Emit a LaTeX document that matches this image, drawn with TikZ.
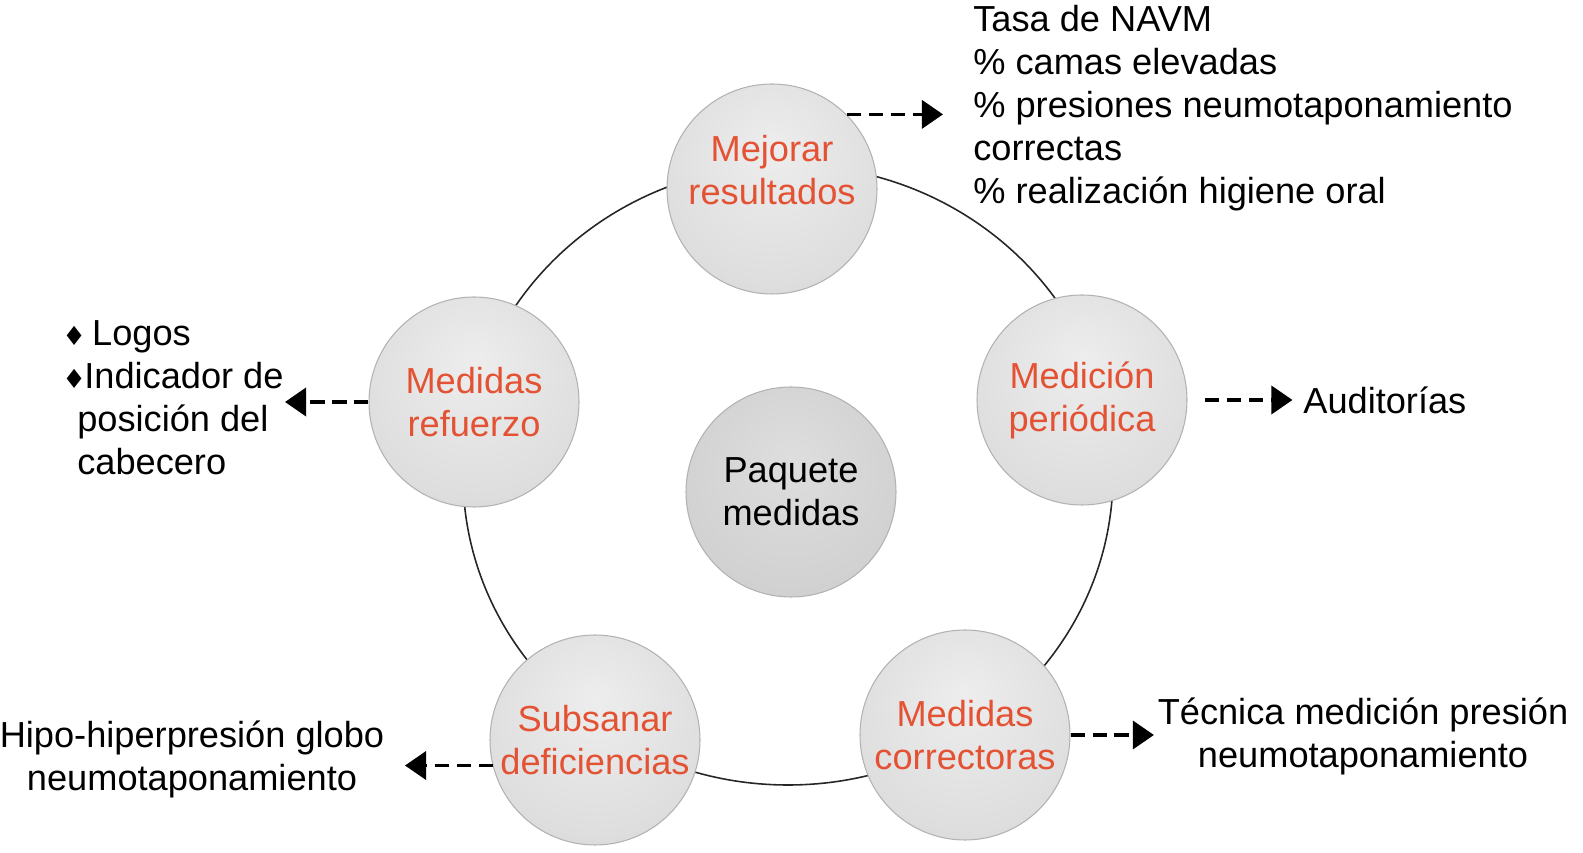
\documentclass[tikz,border=0pt]{standalone}
\usepackage{fontspec}
\setmainfont{Liberation Sans}
\newfontfamily\symfont{DejaVu Sans}
\usepackage{tikz}
\usetikzlibrary{arrows.meta}

\definecolor{redtext}{RGB}{228,82,52}
\newcommand{\bigtext}{\fontsize{20.6}{24.4}\selectfont}
\newcommand{\diam}{{\symfont\fontsize{15}{15}\selectfont ♦}}

\pgfdeclareradialshading{buttonshade}{\pgfpoint{0bp}{10bp}}{color(0bp)=(gray!14); color(28bp)=(gray!26); color(46bp)=(gray!42); color(55bp)=(gray!56); color(60bp)=(gray!72)}
\pgfdeclareradialshading{centershade}{\pgfpoint{0bp}{8bp}}{color(0bp)=(gray!26); color(28bp)=(gray!36); color(46bp)=(gray!52); color(54bp)=(gray!62); color(58bp)=(gray!70)}

\tikzset{
  ball/.style={circle, minimum size=4.2cm, inner sep=0pt, shade, shading=buttonshade,
               draw=gray!60, line width=0.6pt, text=redtext, align=center, font=\bigtext},
  centreball/.style={ball, shading=centershade, text=black},
  infotext/.style={inner sep=0pt, font=\bigtext},
  dasharrow/.style={black, line width=2pt, dash pattern=on 8pt off 4.5pt,
                    -{Triangle[length=12pt,width=16pt]}},
  ringline/.style={black!85, line width=0.9pt}
}

\begin{document}
\begin{tikzpicture}
\useasboundingbox (0,0) rectangle (31.66,17.06);

%%%----------Ring----------%%%
\draw [ringline] (15.76,7.56) ellipse [x radius=6.5, y radius=6.2];

%%%----------Balls----------%%%
\node [ball] (mej) at (15.44,13.28) {Mejorar\\resultados\\[-3pt]\mbox{}};
\node [ball] (med) at (21.64,9.06)  {Medición\\periódica};
\node [ball] (cor) at (19.30,2.36)  {Medidas\\correctoras};
\node [ball] (sub) at (11.90,2.26)  {Subsanar\\deficiencias};
\node [ball] (ref) at (9.48,9.02)   {Medidas\\refuerzo};
\node [centreball] (paq) at (15.82,7.22) {Paquete\\medidas};

%%%----------Texts----------%%%
\node [infotext, anchor=west, align=left] (ind) at (19.46,14.90)
  {Tasa de NAVM\\\% camas elevadas\\\% presiones neumotaponamiento\\correctas\\\% realización higiene oral};
\node [infotext, anchor=west] (aud) at (26.06,9.06) {Auditorías};
\node [infotext, align=center] (tec) at (27.26,2.34) {Técnica medición presión\\neumotaponamiento};
\node [infotext, align=center] (hip) at (3.84,1.88) {Hipo-hiperpresión globo\\neumotaponamiento};
\node [infotext, anchor=west, align=left] (log) at (1.24,9.11)
  {\makebox[17pt][l]{\diam}Logos\\\makebox[12.5pt][l]{\diam}Indicador de\\\hspace*{8.5pt}posición del\\\hspace*{8.5pt}cabecero};

%%%----------Arrows----------%%%
\coordinate (tipMej) at (18.86,14.76);
\coordinate (tipRef) at (5.70,9.02);
\coordinate (tipSub) at (8.10,1.76);

\draw [dasharrow] (mej.45) -- (mej.45 -| tipMej);
\draw [dasharrow, shorten <=10pt, shorten >=6pt] (med.east) -- (aud.west);
\draw [dasharrow, shorten >=2pt] (cor.east) -- (cor.east -| tec.west);
\draw [dasharrow] (sub.194) -- (sub.194 -| tipSub);
\draw [dasharrow] (ref.west) -- (ref.west -| tipRef);

\end{tikzpicture}
\end{document}
